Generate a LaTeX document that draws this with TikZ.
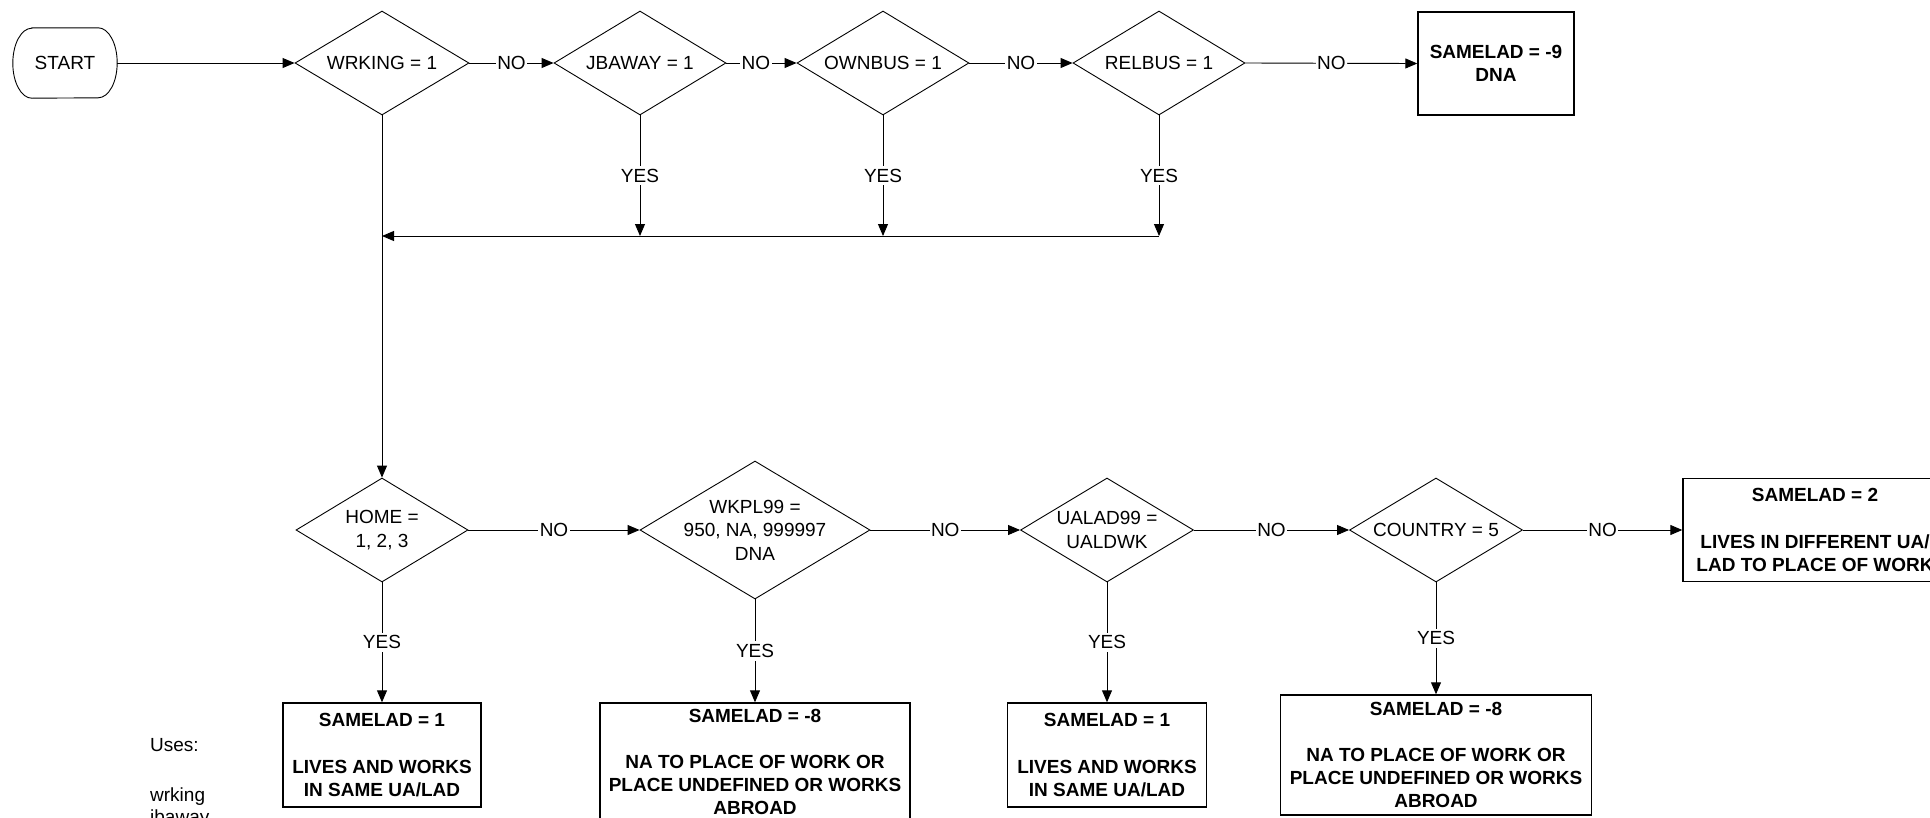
\documentclass[tikz,border=0pt]{standalone}
\usepackage{fontspec}
\setmainfont{Liberation Sans}
\usetikzlibrary{shapes.geometric,arrows.meta}
\begin{document}
\begin{tikzpicture}[x=1pt,y=-1pt,
  every node/.style={font=\fontsize{19pt}{23.5pt}\selectfont},
  dia/.style={draw, diamond, inner sep=0pt, line width=0.9pt},
  txt/.style={align=center, inner sep=0pt, font=\fontsize{19pt}{23.5pt}\selectfont},
  res/.style={draw, rectangle, line width=1.4pt, inner sep=0pt, align=center, font=\fontsize{19pt}{23.2pt}\selectfont\bfseries},
  term/.style={rectangle, inner sep=0pt, minimum width=104pt, minimum height=70pt},
  conn/.style={line width=0.9pt, -{Triangle[length=12pt,width=10pt]}},
  lbl/.style={fill=white, inner sep=1.5pt, font=\fontsize{19pt}{23.5pt}\selectfont},
  ylbl/.style={fill=white, inner sep=3pt, font=\fontsize{19pt}{23.5pt}\selectfont}
]
\useasboundingbox (0,0) rectangle (1930,817);
\clip (0,0) rectangle (1930,817);

% top row
\node[term] (start) at (65,63) {START};
\draw[line width=0.9pt] ([xshift=19pt]start.north west) -- ([xshift=-19pt]start.north east)
  arc[start angle=90, end angle=-90, x radius=19pt, y radius=35pt]
  -- ([xshift=19pt]start.south west)
  arc[start angle=270, end angle=90, x radius=19pt, y radius=35pt] -- cycle;
\node[dia, minimum width=174pt, minimum height=104pt, label={[txt]center:{WRKING = 1}}] (wrk) at (382,63) {};
\node[dia, minimum width=172pt, minimum height=104pt, label={[txt]center:{JBAWAY = 1}}] (jba) at (640,63) {};
\node[dia, minimum width=172pt, minimum height=104pt, label={[txt]center:{OWNBUS = 1}}] (own) at (883,63) {};
\node[dia, minimum width=172pt, minimum height=104pt, label={[txt]center:{RELBUS = 1}}] (rel) at (1159,63) {};
\node[res, minimum width=156pt, minimum height=103pt] (dna) at (1496,63.5) {SAMELAD = -9\\DNA};

\coordinate (cw) at (382,236);

\draw[conn] (start.east) -- (wrk.west);
\draw[conn] (wrk.east) -- node[lbl]{NO} (jba.west);
\draw[conn] (jba.east) -- node[lbl,pos=0.42]{NO} (own.west);
\draw[conn] (own.east) -- node[lbl]{NO} (rel.west);
\draw[conn] (rel.east) -- node[lbl]{NO} (dna.west);

\draw[conn] (jba.south) -- node[ylbl]{YES} (jba.south |- cw);
\draw[conn] (own.south) -- node[ylbl]{YES} (own.south |- cw);
\draw[conn] (rel.south) -- node[ylbl]{YES} (rel.south |- cw);
\draw[conn] (rel.south |- cw) -- (cw);

% bottom row
\node[dia, minimum width=172pt, minimum height=104pt, label={[txt]center:{HOME =\\1, 2, 3}}] (home) at (382,530) {};
\node[dia, minimum width=230pt, minimum height=138pt, label={[txt]center:{WKPL99 =\\950, NA, 999997\\DNA}}] (wkpl) at (755,530) {};
\node[dia, minimum width=173pt, minimum height=104pt, label={[txt]center:{UALAD99 =\\UALDWK}}] (ualad) at (1107,530) {};
\node[dia, minimum width=173pt, minimum height=104pt, label={[txt]center:{COUNTRY = 5}}] (ctry) at (1436,530) {};
\node[res, minimum width=264pt, minimum height=103pt] (diff) at (1815,530) {SAMELAD = 2\\[23.2pt]LIVES IN DIFFERENT UA/\\LAD TO PLACE OF WORK};

\draw[conn] (wrk.south) -- (home.north);
\draw[conn] (home.east) -- node[lbl]{NO} (wkpl.west);
\draw[conn] (wkpl.east) -- node[lbl]{NO} (ualad.west);
\draw[conn] (ualad.east) -- node[lbl]{NO} (ctry.west);
\draw[conn] (ctry.east) -- node[lbl]{NO} (diff.west);

\node[res, minimum width=198pt, minimum height=104pt] (same1) at (382,755) {SAMELAD = 1\\[23.2pt]LIVES AND WORKS\\IN SAME UA/LAD};
\node[res, minimum width=310pt, minimum height=118pt] (na1) at (755,762) {SAMELAD = -8\\[23.2pt]NA TO PLACE OF WORK OR\\PLACE UNDEFINED OR WORKS\\ABROAD};
\node[res, minimum width=199pt, minimum height=104pt] (same2) at (1107,755) {SAMELAD = 1\\[23.2pt]LIVES AND WORKS\\IN SAME UA/LAD};
\node[res, minimum width=311pt, minimum height=120pt] (na2) at (1436,755) {SAMELAD = -8\\[23.2pt]NA TO PLACE OF WORK OR\\PLACE UNDEFINED OR WORKS\\ABROAD};

\draw[conn] (home.south) -- node[ylbl]{YES} (same1.north);
\draw[conn] (wkpl.south) -- node[ylbl]{YES} (na1.north);
\draw[conn] (ualad.south) -- node[ylbl]{YES} (same2.north);
\draw[conn] (ctry.south) -- node[ylbl]{YES} (na2.north);

\node[anchor=base west, align=left, inner sep=0pt, font=\fontsize{19pt}{22pt}\selectfont] (uses) at (150,823) {Uses:\\[28pt]wrking\\jbaway};
\end{tikzpicture}
\end{document}
